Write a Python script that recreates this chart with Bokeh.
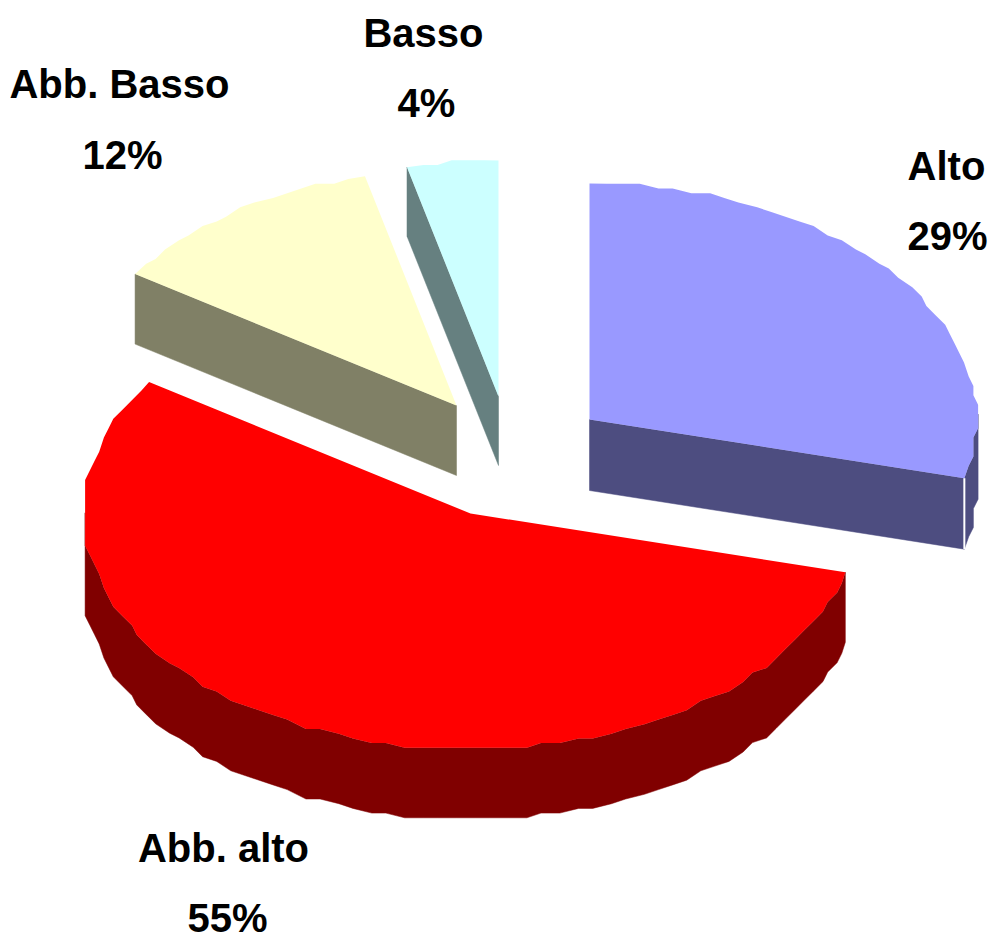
import numpy as np
from bokeh.plotting import figure
from bokeh.core.properties import value
from bokeh.embed import file_html
from bokeh.resources import INLINE

# Data
categories = ["Alto", "Abb. alto", "Abb. Basso", "Basso"]
shares = [29.0, 55.4, 11.8, 3.8]

# Styles
top_colors = ["#9999FF", "#FF0000", "#FFFFCC", "#CCFFFF"]
side_colors = ["#4D4D80", "#800000", "#808066", "#668080"]

# Layout (reference pixels)
apex_x = [589, 470, 456, 498]
apex_y = [419, 513, 405, 396]
depth = [71, 70, 70, 69]
RX, RY = 387, 236
GRID, STEP = 4.7, 2.6
label_x = [946, 223, 119, 423]
label_y = [183, 865, 101, 50]
pct_x = [947, 227, 122, 426]
pct_y = [253, 935, 172, 120]

p = figure(width=990, height=939, x_range=(0, 990), y_range=(939, 0),
           output_backend="svg", toolbar_location=None, min_border=0,
           outline_line_color=None, background_fill_color="white")
p.xaxis.visible = False
p.yaxis.visible = False
p.grid.visible = False


def arc(cx, cy, a0, a1):
    n = max(2, int(np.ceil((a1 - a0) / STEP)) + 1)
    deg = np.linspace(a0, a1, n)
    th = np.radians(deg)
    x = cx + RX * np.sin(th)
    y = cy - RY * np.cos(th)
    qx = np.round(x / GRID) * GRID
    qy = np.round(y / GRID) * GRID
    qx[0], qy[0], qx[-1], qy[-1] = x[0], y[0], x[-1], y[-1]
    return deg, qx, qy


def sweep(xs, ys, d, color):
    xs, ys = list(xs), list(ys)
    p.patch(xs + xs[::-1], ys + [v + d for v in ys[::-1]],
            fill_color=color, line_color=color, line_width=0.5)


edges = np.cumsum([0] + shares) / sum(shares) * 360.0
for i in [3, 2, 0, 1]:
    a0, a1 = edges[i], edges[i + 1]
    cx, cy, d = apex_x[i], apex_y[i], depth[i]
    deg, ax, ay = arc(cx, cy, a0, a1)
    # only the faces that look towards the viewer are swept downwards
    if 180 < a0 < 360:
        sweep([cx, ax[0]], [cy, ay[0]], d, side_colors[i])
    if 0 < a1 < 180:
        sweep([cx, ax[-1]], [cy, ay[-1]], d, side_colors[i])
    front = np.where((deg >= 90) & (deg <= 270))[0]
    if len(front):
        lo, hi = max(front[0] - 1, 0), min(front[-1] + 1, len(deg) - 1)
        sweep(ax[lo:hi + 1], ay[lo:hi + 1], d, side_colors[i])
    p.patch([cx] + list(ax), [cy] + list(ay), fill_color=top_colors[i], line_color=None)
    if i == 0:  # light seam between the cut face and the rim
        p.line([ax[-1], ax[-1]], [ay[-1], ay[-1] + d], line_color="white", line_width=2)

pct = [f"{round(v)}%" for v in shares]
for xs, ys, txt in ((label_x, label_y, categories), (pct_x, pct_y, pct)):
    p.text(xs, ys, text=txt, text_align="center", text_baseline="alphabetic",
           y_offset=-18, text_font=value("Liberation Sans"), text_font_style="bold",
           text_font_size="40px", text_color="black")

open("out.html", "w").write(file_html(p, INLINE))
